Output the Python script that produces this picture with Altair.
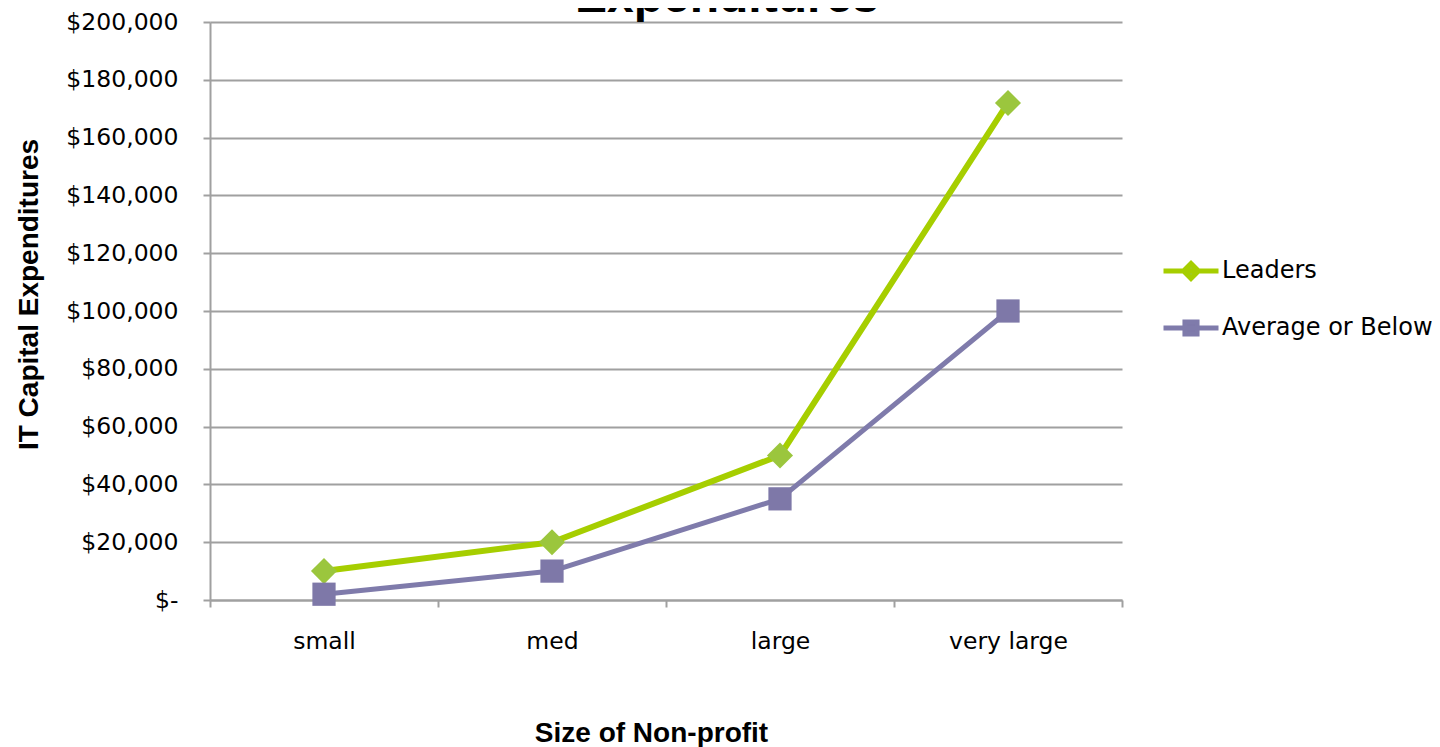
import altair as alt
import pandas as pd

# ---- data ----
chart_title = "Expenditures"
categories = ["small", "med", "large", "very large"]
series_names = ["Leaders", "Average or Below"]
leaders = [10000, 20000, 50000, 172000]
average_or_below = [2000, 10000, 35000, 100000]
y_ticks = [0, 20000, 40000, 60000, 80000, 100000, 120000, 140000, 160000, 180000, 200000]

# ---- styles ----
line_colors = ["#A6CE00", "#7F7BAB"]
marker_colors = ["#9BC63D", "#7E78A8"]
line_widths = [6, 5]
marker_shapes = ["diamond", "square"]
marker_sizes = [680, 540]
legend_shapes = [
    "M-1,0H1M0,-0.27L0.27,0L0,0.27L-0.27,0Z",
    "M-1,0H1M-0.22,-0.22H0.22V0.22H-0.22Z",
]
grey = "#A0A0A0"
label_font = "DejaVu Sans"
title_font = "Liberation Sans"

rows = []
for name, vals in zip(series_names, [leaders, average_or_below]):
    for c, v in zip(categories, vals):
        rows.append({"size": c, "series": name, "value": v})
df = pd.DataFrame(rows)

W, H = 912, 578

x_enc = alt.X(
    "size:N",
    sort=categories,
    scale=alt.Scale(type="band", domain=categories, paddingInner=0, paddingOuter=0),
    axis=alt.Axis(
        title="Size of Non-profit",
        tickBand="extent",
        grid=False,
        domainColor=grey,
        domainWidth=2,
        tickColor=grey,
        tickWidth=2,
        tickSize=7,
        labelAngle=0,
        labelFont=label_font,
        labelFontSize=23.5,
        labelColor="black",
        labelBaseline="alphabetic",
        labelPadding=41,
        titleFont=title_font,
        titleFontWeight="bold",
        titleFontSize=28,
        titleColor="black",
        titleX=441,
        titleY=141,
        titleAlign="center",
        titleBaseline="alphabetic",
    ),
)

y_enc = alt.Y(
    "value:Q",
    scale=alt.Scale(domain=[0, 200000], nice=False),
    axis=alt.Axis(
        values=y_ticks,
        title="IT Capital Expenditures",
        labelExpr="datum.value == 0 ? '$-' : format(datum.value, '$,')",
        grid=True,
        gridColor=grey,
        gridWidth=2,
        domainColor=grey,
        domainWidth=2,
        tickColor=grey,
        tickWidth=2,
        tickSize=7,
        labelFont=label_font,
        labelFontSize=23.5,
        labelColor="black",
        labelPadding=25,
        titleFont=title_font,
        titleFontWeight="bold",
        titleFontSize=28,
        titleColor="black",
        titleAngle=270,
        titleX=-173,
        titleY=272,
        titleAlign="center",
        titleBaseline="alphabetic",
    ),
)

base = alt.Chart(df)

series_layers = []
for i, name in enumerate(series_names):
    sub = base.transform_filter(alt.datum.series == name)
    series_layers.append(
        sub.mark_line(strokeJoin="round", strokeCap="round", stroke=line_colors[i],
                      strokeWidth=line_widths[i]).encode(x=x_enc, y=y_enc)
    )
for i, name in enumerate(series_names):
    sub = base.transform_filter(alt.datum.series == name)
    series_layers.append(
        sub.mark_point(shape=marker_shapes[i], filled=True, size=marker_sizes[i], opacity=1,
                       fill=marker_colors[i], strokeWidth=0).encode(x=x_enc, y=y_enc)
    )

leg = alt.Legend(
    title=None,
    orient="none",
    legendX=951,
    legendY=219,
    symbolSize=3025,
    symbolStrokeWidth=5,
    labelFont=label_font,
    labelFontSize=24,
    labelColor="black",
    labelOffset=1,
    labelLimit=400,
    rowPadding=9,
    padding=0,
)

legend_layer = (
    base.transform_filter("datum.value < 0")
    .mark_point(filled=True, opacity=1, strokeWidth=5)
    .encode(
        x=x_enc,
        y=y_enc,
        fill=alt.Fill("series:N", scale=alt.Scale(domain=series_names, range=marker_colors), legend=leg),
        stroke=alt.Stroke("series:N", scale=alt.Scale(domain=series_names, range=line_colors), legend=leg),
        shape=alt.Shape("series:N", scale=alt.Scale(domain=series_names, range=legend_shapes), legend=leg),
    )
)

title_layer = alt.Chart(pd.DataFrame({"t": [chart_title]})).mark_text(
    font=title_font, fontWeight="bold", fontSize=48, baseline="alphabetic", align="center", color="black"
).encode(text="t:N", x=alt.value(517), y=alt.value(-10))

chart = (
    alt.layer(*series_layers, legend_layer, title_layer)
    .properties(
        width=W,
        height=H,
        autosize=alt.AutoSizeParams(type="none"),
        padding={"left": 202, "top": 14, "right": 310, "bottom": 147},
    )
    .configure_view(stroke=None)
)

chart.save("out.html", embed_options={"renderer": "svg", "actions": False})
